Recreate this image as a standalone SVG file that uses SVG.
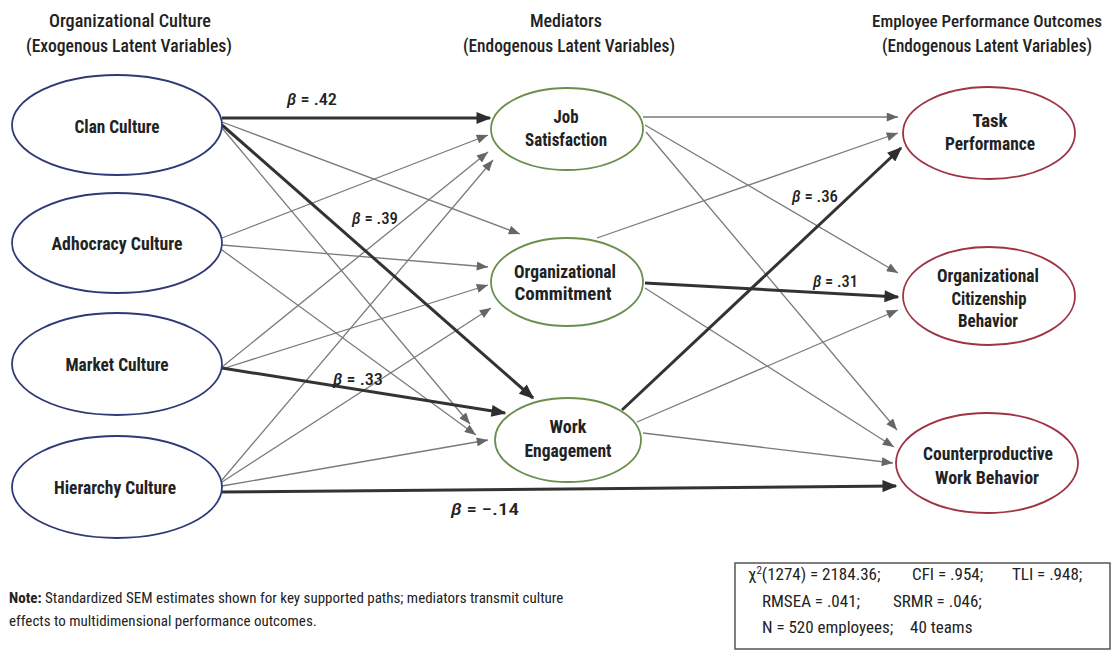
<svg xmlns="http://www.w3.org/2000/svg" width="1116" height="653" viewBox="0 0 1116 653">
<style>
text{font-family:"Liberation Sans Narrow","Roboto Condensed",Roboto,"Liberation Sans",Arial,sans-serif;font-stretch:condensed;fill:#222}
.hd{font-size:19px;font-weight:500;text-anchor:middle}
.lb{font-size:18px;font-weight:bold;text-anchor:middle}
.beta{font-size:17px;font-weight:500}
.fit{font-size:17px}
.note{font-size:15px}
.left{fill:#fff;stroke:#2e3a78;stroke-width:1.8}
.mid{fill:#fff;stroke:#6a8f4e;stroke-width:1.8}
.right{fill:#fff;stroke:#9e3444;stroke-width:1.8}
.thin{stroke:#7a7a7a;stroke-width:1.3;fill:none;marker-end:url(#ah)}
.thick{stroke:#333;stroke-width:3;fill:none;marker-end:url(#ahb)}
</style>
<defs>
<marker id="ah" viewBox="0 0 10 8" refX="10" refY="4" markerWidth="12" markerHeight="9" markerUnits="userSpaceOnUse" orient="auto"><path d="M0,0 L10,4 L0,8 z" fill="#666"/></marker>
<marker id="ahb" viewBox="0 0 10 8" refX="9" refY="4" markerWidth="16" markerHeight="12" markerUnits="userSpaceOnUse" orient="auto"><path d="M0,0 L10,4 L0,8 z" fill="#2e2e2e"/></marker>
</defs>
<rect width="1116" height="653" fill="#fff"/>

<g id="headers">
<text class="hd" x="130" y="27" textLength="162" lengthAdjust="spacingAndGlyphs">Organizational Culture</text>
<text class="hd" x="129" y="52" textLength="206" lengthAdjust="spacingAndGlyphs">(Exogenous Latent Variables)</text>
<text class="hd" x="566" y="27" textLength="72" lengthAdjust="spacingAndGlyphs">Mediators</text>
<text class="hd" x="569" y="52" textLength="212" lengthAdjust="spacingAndGlyphs">(Endogenous Latent Variables)</text>
<text class="hd" x="987" y="27" textLength="230" lengthAdjust="spacingAndGlyphs" style="font-size:17px">Employee Performance Outcomes</text>
<text class="hd" x="987" y="52" textLength="210" lengthAdjust="spacingAndGlyphs">(Endogenous Latent Variables)</text>
</g>

<g id="connectors">
<line class="thin" x1="222" y1="122" x2="520" y2="234"/>
<line class="thin" x1="222" y1="128" x2="470" y2="424"/>
<line class="thin" x1="222" y1="238" x2="488" y2="135"/>
<line class="thin" x1="222" y1="245" x2="488" y2="267"/>
<line class="thin" x1="222" y1="250" x2="476" y2="435"/>
<line class="thin" x1="222" y1="367" x2="488" y2="152"/>
<line class="thin" x1="222" y1="369" x2="488" y2="285"/>
<line class="thin" x1="222" y1="480" x2="493" y2="160"/>
<line class="thin" x1="222" y1="482" x2="491" y2="308"/>
<line class="thin" x1="222" y1="486" x2="488" y2="440"/>
<line class="thick" x1="222" y1="118" x2="490" y2="118"/>
<line class="thick" x1="222" y1="125" x2="533" y2="398"/>
<line class="thick" x1="222" y1="368" x2="505" y2="413"/>
<line class="thick" x1="222" y1="492" x2="896" y2="486"/>
<line class="thin" x1="643" y1="117" x2="898" y2="117"/>
<line class="thin" x1="645" y1="125" x2="898" y2="273"/>
<line class="thin" x1="646" y1="132" x2="897" y2="430"/>
<line class="thin" x1="597" y1="238" x2="898" y2="133"/>
<line class="thin" x1="645" y1="288" x2="894" y2="447"/>
<line class="thin" x1="637" y1="422" x2="898" y2="310"/>
<line class="thin" x1="643" y1="433" x2="893" y2="463"/>
<line class="thick" x1="645" y1="283" x2="898" y2="297"/>
<line class="thick" x1="622" y1="410" x2="901" y2="148"/>
</g>

<g id="clan"><ellipse class="left" cx="117" cy="125" rx="105" ry="50"/><text class="lb" x="117" y="133" textLength="85" lengthAdjust="spacingAndGlyphs">Clan Culture</text></g>
<g id="adhocracy"><ellipse class="left" cx="117" cy="243" rx="105" ry="50"/><text class="lb" x="117" y="250" textLength="131" lengthAdjust="spacingAndGlyphs">Adhocracy Culture</text></g>
<g id="market"><ellipse class="left" cx="117" cy="364" rx="105" ry="51"/><text class="lb" x="117" y="371" textLength="103" lengthAdjust="spacingAndGlyphs">Market Culture</text></g>
<g id="hierarchy"><ellipse class="left" cx="117" cy="487" rx="105" ry="51"/><text class="lb" x="115" y="494" textLength="122" lengthAdjust="spacingAndGlyphs">Hierarchy Culture</text></g>

<g id="job-satisfaction"><ellipse class="mid" cx="567" cy="129" rx="76" ry="41"/><text class="lb" x="566" y="123" textLength="25" lengthAdjust="spacingAndGlyphs">Job</text><text class="lb" x="566" y="146" textLength="82" lengthAdjust="spacingAndGlyphs">Satisfaction</text></g>
<g id="org-commitment"><ellipse class="mid" cx="567" cy="282" rx="76" ry="44"/><text class="lb" x="565" y="278" textLength="102" lengthAdjust="spacingAndGlyphs">Organizational</text><text class="lb" x="563" y="300" textLength="97" lengthAdjust="spacingAndGlyphs">Commitment</text></g>
<g id="work-engagement"><ellipse class="mid" cx="568" cy="440" rx="73" ry="42"/><text class="lb" x="568" y="433" textLength="37" lengthAdjust="spacingAndGlyphs">Work</text><text class="lb" x="568" y="457" textLength="87" lengthAdjust="spacingAndGlyphs">Engagement</text></g>

<g id="task-performance"><ellipse class="right" cx="989" cy="133" rx="86" ry="46"/><text class="lb" x="990" y="127" textLength="35" lengthAdjust="spacingAndGlyphs">Task</text><text class="lb" x="990" y="150" textLength="90" lengthAdjust="spacingAndGlyphs">Performance</text></g>
<g id="ocb"><ellipse class="right" cx="989" cy="296" rx="86" ry="49"/><text class="lb" x="988" y="282" textLength="102" lengthAdjust="spacingAndGlyphs">Organizational</text><text class="lb" x="989" y="305" textLength="75" lengthAdjust="spacingAndGlyphs">Citizenship</text><text class="lb" x="988" y="327" textLength="60" lengthAdjust="spacingAndGlyphs">Behavior</text></g>
<g id="cwb"><ellipse class="right" cx="987" cy="463" rx="91" ry="50"/><text class="lb" x="988" y="460" textLength="130" lengthAdjust="spacingAndGlyphs">Counterproductive</text><text class="lb" x="987" y="484" textLength="104" lengthAdjust="spacingAndGlyphs">Work Behavior</text></g>

<g id="path-labels">
<text class="beta" x="287" y="105" textLength="50" lengthAdjust="spacingAndGlyphs"><tspan font-style="italic">β</tspan> = .42</text>
<text class="beta" x="352" y="224" textLength="46" lengthAdjust="spacingAndGlyphs"><tspan font-style="italic">β</tspan> = .39</text>
<text class="beta" x="333" y="385" textLength="50" lengthAdjust="spacingAndGlyphs"><tspan font-style="italic">β</tspan> = .33</text>
<text class="beta" x="451" y="515" textLength="68" lengthAdjust="spacingAndGlyphs"><tspan font-style="italic">β</tspan> = −.14</text>
<text class="beta" x="792" y="202" textLength="46" lengthAdjust="spacingAndGlyphs"><tspan font-style="italic">β</tspan> = .36</text>
<text class="beta" x="813" y="287" textLength="45" lengthAdjust="spacingAndGlyphs"><tspan font-style="italic">β</tspan> = .31</text>
</g>

<g id="note">
<text class="note" x="9" y="603"><tspan font-weight="bold">Note:</tspan> Standardized SEM estimates shown for key supported paths; mediators transmit culture</text>
<text class="note" x="9" y="626">effects to multidimensional performance outcomes.</text>
</g>

<g id="fit-box">
<rect x="735" y="563" width="375" height="86" fill="#fff" stroke="#555" stroke-width="1.5"/>
<text class="fit" x="748" y="580">χ<tspan dy="-6" font-size="11">2</tspan><tspan dy="6">(1274) = 2184.36;</tspan></text>
<text class="fit" x="912" y="580">CFI = .954;</text>
<text class="fit" x="1012" y="580">TLI = .948;</text>
<text class="fit" x="762" y="607">RMSEA = .041;</text>
<text class="fit" x="893" y="607">SRMR = .046;</text>
<text class="fit" x="762" y="633">N = 520 employees;</text>
<text class="fit" x="910" y="633">40 teams</text>
</g>
</svg>
